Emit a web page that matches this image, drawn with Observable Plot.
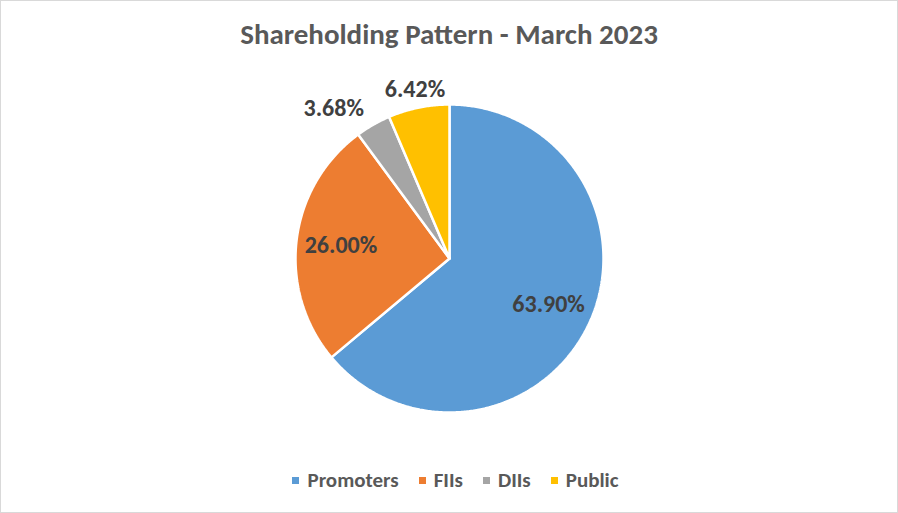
<!DOCTYPE html>
<html>
<head>
<meta charset="utf-8">
<script src="https://cdn.jsdelivr.net/npm/d3@7"></script>
<script src="https://cdn.jsdelivr.net/npm/@observablehq/plot@0.6"></script>
<style>
  html, body { margin: 0; padding: 0; background: #fff; }
  #wrap { position: relative; width: 898px; height: 513px; overflow: hidden; font-family: Carlito, Lato, "Open Sans", sans-serif; }
  #frame { position: absolute; left: 0; top: 0; width: 898px; height: 513px; box-sizing: border-box; border: 1px solid #D9D9D9; pointer-events: none; }
  #title { position: absolute; left: 0; top: 20px; width: 898px; text-align: center; font-size: 29px; line-height: 29px; font-weight: bold; color: #595959; }
  #chart { position: absolute; left: 0; top: 0; }
  #legend { position: absolute; left: 0; top: 470px; width: 898px; box-sizing: border-box; padding-left: 13px; display: flex; justify-content: center; font-size: 21px; line-height: 21px; font-weight: bold; color: #595959; }
  .item { display: flex; align-items: center; margin: 0 10px; }
  .sw { width: 7px; height: 7px; margin-right: 8px; }
</style>
</head>
<body>
<div id="wrap">
  <div id="chart"></div>
  <div id="title"></div>
  <div id="legend"></div>
  <div id="frame"></div>
</div>
<script>
const titleText = "Shareholding Pattern - March 2023";
const categories = ["Promoters", "FIIs", "DIIs", "Public"];
const shares = [63.90, 26.00, 3.68, 6.42];
const colors = ["#5B9BD5", "#ED7D31", "#A5A5A5", "#FFC000"];

document.getElementById("title").textContent = titleText;

// pie layout (clockwise from 12 o'clock, in given order)
const pie = d3.pie().sort(null).value(d => d.value)
  (categories.map((c, i) => ({category: c, value: shares[i]})));

// sector outlines as polygon points in unit coordinates
const pts = [];
pie.forEach(s => {
  const c = s.data.category;
  pts.push({category: c, x: 0, y: 0});
  const n = Math.max(2, Math.ceil((s.endAngle - s.startAngle) / (Math.PI / 360)));
  for (let k = 0; k <= n; k++) {
    const a = s.startAngle + (s.endAngle - s.startAngle) * k / n;
    pts.push({category: c, x: Math.sin(a), y: Math.cos(a)});
  }
  pts.push({category: c, x: 0, y: 0});
});

// labels: inside for large slices, outside for small ones
const labels = pie.map(s => {
  const a = (s.startAngle + s.endAngle) / 2;
  const inside = s.data.value > 10;
  const r = inside ? 0.71 : 1.12;
  const sx = Math.sin(a);
  return {
    category: s.data.category,
    text: s.data.value.toFixed(2) + "%",
    x: r * sx, y: r * Math.cos(a),
    anchor: (!inside && sx < -0.3) ? "end" : "middle"
  };
});

const labelStyle = {x: "x", y: "y", text: "text", fill: "#404040", fontSize: 24, fontWeight: "bold", fontFamily: "Carlito, Lato, sans-serif", lineAnchor: "middle"};

const chart = Plot.plot({
  width: 898,
  height: 513,
  marginLeft: 295,
  marginRight: 295,
  marginTop: 104,
  marginBottom: 101,
  x: {domain: [-1, 1], axis: null},
  y: {domain: [-1, 1], axis: null},
  color: {domain: categories, range: colors},
  marks: [
    Plot.line(pts, {x: "x", y: "y", z: "category", fill: "category", stroke: "#fff", strokeWidth: 2.5, strokeLinejoin: "miter", curve: "linear"}),
    Plot.text(labels.filter(d => d.anchor === "middle"), {...labelStyle, textAnchor: "middle"}),
    Plot.text(labels.filter(d => d.anchor === "end"), {...labelStyle, textAnchor: "end"})
  ]
});
document.getElementById("chart").appendChild(chart);

const legend = document.getElementById("legend");
categories.forEach((c, i) => {
  const it = document.createElement("div");
  it.className = "item";
  const sw = document.createElement("div");
  sw.className = "sw";
  sw.style.background = colors[i];
  const tx = document.createElement("span");
  tx.textContent = c;
  it.appendChild(sw); it.appendChild(tx);
  legend.appendChild(it);
});
</script>
</body>
</html>
